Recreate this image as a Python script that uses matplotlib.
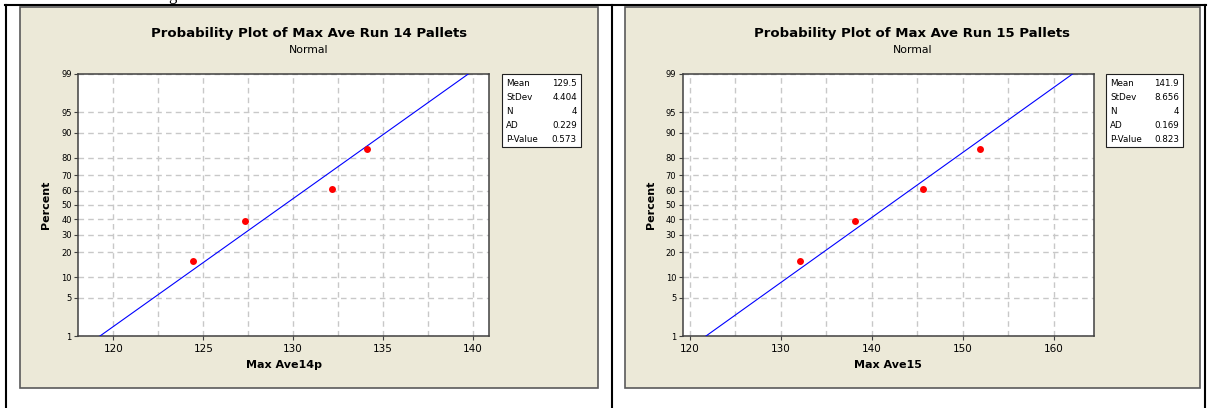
import matplotlib.pyplot as plt
import matplotlib.patches as mpatches
import matplotlib.lines as mlines
import numpy as np
from statistics import NormalDist

W, H = 1211, 408
BEIGE = "#ECE9D8"
GRID = "#C8C8C8"
SPINE = "#404040"

pct_ticks = [1, 5, 10, 20, 30, 40, 50, 60, 70, 80, 90, 95, 99]
stat_names = ["Mean", "StDev", "N", "AD", "P-Value"]

# Run 14
run14 = [124.45, 127.3, 132.15, 134.1]
stats14 = ["129.5", "4.404", "4", "0.229", "0.573"]
# Run 15
run15 = [132.05, 138.1, 145.6, 151.85]
stats15 = ["141.9", "8.656", "4", "0.169", "0.823"]

z = NormalDist().inv_cdf


def px(x0, y0, x1, y1):
    # pixel box (top-left origin) -> figure fraction rect
    return [x0 / W, 1 - y1 / H, (x1 - x0) / W, (y1 - y0) / H]


fig = plt.figure(figsize=(W / 100, H / 100), dpi=100)
fig.patch.set_facecolor("white")


def panel(box, axbox, legbox, data, stats, title, xlabel, xlim, major, minor):
    bx0, by0, bx1, by1 = box
    bg = mpatches.Rectangle((bx0 / W, 1 - by1 / H), (bx1 - bx0) / W, (by1 - by0) / H,
                            transform=fig.transFigure, facecolor=BEIGE,
                            edgecolor="#5A5A5A", lw=1.2, zorder=-5)
    fig.patches.append(bg)

    ax = fig.add_axes(px(*axbox))
    ax.set_facecolor("white")
    ax.set_xlim(*xlim)
    ax.set_ylim(z(0.01), z(0.99))
    ax.set_yticks([z(p / 100) for p in pct_ticks])
    ax.set_yticklabels([str(p) for p in pct_ticks], fontsize=6)
    ax.set_xticks(major)
    ax.set_xticklabels([str(v) for v in major], fontsize=7.5)
    ax.set_xticks(minor, minor=True)
    ax.tick_params(which="major", direction="out", length=3, width=0.8,
                   color=SPINE, pad=3)
    ax.tick_params(which="minor", length=0)
    ax.tick_params(axis="y", pad=1.5)
    ax.grid(True, which="both", axis="x", color=GRID, lw=1.0, ls=(0, (4, 3)))
    ax.grid(True, which="major", axis="y", color=GRID, lw=1.0, ls=(0, (4, 3)))
    ax.set_axisbelow(True)
    for s in ax.spines.values():
        s.set_color(SPINE)
        s.set_linewidth(1.1)

    # fitted normal line from the reported mean / stdev
    mean, sd = float(stats[0]), float(stats[1])
    zz = np.array([-3.0, 3.0])
    ax.plot(mean + sd * zz, zz, color="#0000FF", lw=0.8, zorder=3)

    # median-rank plotting positions
    n = len(data)
    pos = [(i + 1 - 0.3) / (n + 0.4) for i in range(n)]
    ax.plot(sorted(data), [z(p) for p in pos], "o", color="#FF0000",
            ms=5.0, mec="none", zorder=4, clip_on=False)

    ax.set_xlabel(xlabel, fontsize=8, fontweight="bold", labelpad=4)
    ax.set_ylabel("Percent", fontsize=8, fontweight="bold", labelpad=7)

    cx = (bx0 + bx1) / 2
    fig.text(cx / W, 1 - 33 / H, title, ha="center", va="center",
             fontsize=9.5, fontweight="bold", color="black")
    fig.text(cx / W, 1 - 50 / H, "Normal", ha="center", va="center",
             fontsize=7.8, color="black")

    lx0, ly0, lx1, ly1 = legbox
    leg = mpatches.Rectangle((lx0 / W, 1 - ly1 / H), (lx1 - lx0) / W, (ly1 - ly0) / H,
                             transform=fig.transFigure, facecolor="white",
                             edgecolor="#202020", lw=0.8, zorder=2)
    fig.patches.append(leg)
    for k, (name, val) in enumerate(zip(stat_names, stats)):
        ty = 1 - (ly0 + 10 + k * 14) / H
        fig.text((lx0 + 4) / W, ty, name, ha="left", va="center", fontsize=6.3)
        fig.text((lx1 - 4) / W, ty, val, ha="right", va="center", fontsize=6.3)
    return ax


panel((20, 7, 598, 388), (78, 74, 489, 336), (502, 74, 581, 147),
      run14, stats14, "Probability Plot of Max Ave Run 14 Pallets", "Max Ave14p",
      (118.03, 140.9), [120, 125, 130, 135, 140], np.arange(120, 141, 2.5))

panel((625, 7, 1200, 388), (682.5, 74, 1093.5, 336), (1106, 74, 1183, 147),
      run15, stats15, "Probability Plot of Max Ave Run 15 Pallets", "Max Ave15",
      (119.18, 164.34), [120, 130, 140, 150, 160], np.arange(120, 161, 5))

# table rules of the surrounding document
for xs, ys in [((5, 1206), (5, 5)), ((6, 6), (5, 408)),
               ((611.5, 611.5), (5, 408)), ((1205, 1205), (5, 408))]:
    fig.add_artist(mlines.Line2D([x / W for x in xs], [1 - y / H for y in ys],
                                 transform=fig.transFigure, color="black", lw=1.5))

# descender of the line of text above the table
fig.text(172 / W, 1 + 0.5 / H, "g", ha="center", va="baseline", fontsize=12,
         family="Liberation Serif")

fig.savefig("out.png", dpi=100)
